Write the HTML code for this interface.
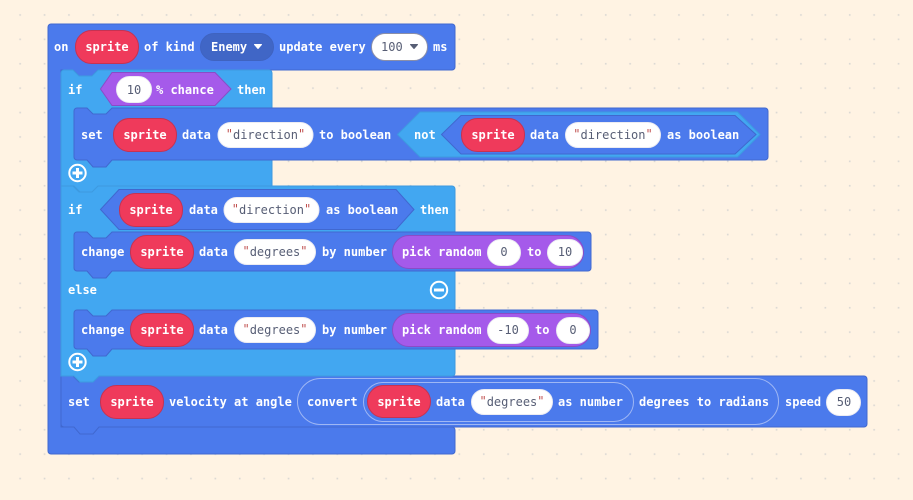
<!DOCTYPE html>
<html><head><meta charset="utf-8"><style>
html,body{margin:0;padding:0;background:#fff3e3;width:913px;height:500px;overflow:hidden}
svg{display:block}
text{font-family:"DejaVu Sans Mono","Liberation Mono",monospace;font-size:12px;font-weight:bold;fill:#fff;dominant-baseline:central}
.m{text-anchor:middle}
.d{fill:#575e75;font-weight:normal}
.q{fill:#c0504f}
.ev{fill:#4b7aec;stroke:#4068cf}
.lb{fill:#42a7f1;stroke:#3d9ae0}
.sp{fill:#ef3a5b;stroke:#c63252}
.w{fill:#fff;stroke:#ececf2}
.pu{fill:#a55aea;stroke:#8a4cc6}
.ol{fill:none;stroke:#9fb7f4}
</style></head><body>
<svg width="913" height="500" viewBox="0 0 913 500" xmlns="http://www.w3.org/2000/svg">
<defs><pattern id="g" x="7.9" y="2.7" width="24.4" height="24.4" patternUnits="userSpaceOnUse"><rect x="11.4" y="11.4" width="1.7" height="1.7" fill="#dcd9d4"/></pattern></defs>
<rect width="913" height="500" fill="#fff3e3"/>
<rect width="913" height="500" fill="url(#g)"/>

<path class="ev" d="M48,27a3,3 0 0 1 3-3H452a3,3 0 0 1 3,3V67a3,3 0 0 1-3,3H98l-6,6H79l-6-6H61V427H452a3,3 0 0 1 3,3V451a3,3 0 0 1-3,3H51a3,3 0 0 1-3-3z"/>
<rect class="sp" x="75.500" y="30.500" width="63" height="33" rx="16"/>
<text class="m" x="107" y="47">sprite</text>
<text x="54" y="47">on</text>
<text x="144" y="47">of kind</text>
<rect x="200.500" y="33.500" width="73" height="27" rx="13.500" fill="#4066c6" stroke="#3f63c0"/>
<text x="211" y="47">Enemy</text>
<path d="M254.500,44.500h7l-3.500,4z" fill="#fff" stroke="#fff" stroke-linejoin="round"/>
<text x="279" y="47">update every</text>
<rect class="w" style="stroke:#8b8fa8" x="371.500" y="33.500" width="56" height="27" rx="13.500"/>
<text class="d" x="381" y="47">100</text>
<path d="M410.500,44.500h7l-3.500,4z" fill="#575e75" stroke="#575e75" stroke-linejoin="round"/>
<text x="433" y="47">ms</text>

<!-- if 1 -->
<path class="lb" d="M61,73a3,3 0 0 1 3-3h9l6,6h13l6-6H269a3,3 0 0 1 3,3V186H99l-6,6H80l-6-6H61z"/>
<path class="pu" d="M100.500,89L112,72.500H215L231,89L215,105.500H112z"/>
<rect class="w" x="116.500" y="76.500" width="35" height="26" rx="13"/>
<text class="m d" x="134" y="90">10</text>
<text x="156" y="90">% chance</text>
<text x="68" y="90">if</text>
<text x="237" y="90">then</text>

<!-- set direction -->
<path class="ev" d="M74,111a3,3 0 0 1 3-3h10l6,6h13l6-6H765a3,3 0 0 1 3,3V157a3,3 0 0 1-3,3H112l-6,7H93l-6-7H77a3,3 0 0 1-3-3z"/>
<text x="81" y="135">set</text>
<rect class="sp" x="113.500" y="118.500" width="63" height="33" rx="16"/>
<text class="m" x="145" y="135">sprite</text>
<text x="182" y="135">data</text>
<rect class="w" x="218" y="122.500" width="95" height="25" rx="12.500"/>
<text class="m d" x="265.500" y="135"><tspan class="q" dy="-1">"</tspan><tspan dy="1">direction</tspan><tspan class="q" dy="-1">"</tspan></text>
<text x="319" y="135">to boolean</text>
<path class="lb" d="M397.500,134.500L420,112H737.500L760,134.500L737.500,157H420z"/>
<text x="414" y="135">not</text>
<path class="ev" d="M441.500,134.500L461,115.500H735L756,134.500L735,154H461z"/>
<rect class="sp" x="461.500" y="118.500" width="63" height="33" rx="16"/>
<text class="m" x="493" y="135">sprite</text>
<text x="530" y="135">data</text>
<rect class="w" x="565.500" y="122.500" width="95" height="25" rx="12.500"/>
<text class="m d" x="613" y="135"><tspan class="q" dy="-1">"</tspan><tspan dy="1">direction</tspan><tspan class="q" dy="-1">"</tspan></text>
<text x="667" y="135">as boolean</text>

<g fill="none" stroke="#fff" stroke-width="2"><circle cx="77.500" cy="173" r="8.200"/></g>
<path d="M77.500,168v10M72.500,173h10" stroke="#fff" stroke-width="3"/>

<!-- set velocity -->
<path class="ev" d="M61,376h12l6,6h13l6-6H864a3,3 0 0 1 3,3V424a3,3 0 0 1-3,3H99l-6,7H80l-6-7H64a3,3 0 0 1-3-3z"/>

<!-- if 2 -->
<path class="lb" d="M61,186h12l6,6h13l6-6H452a3,3 0 0 1 3,3V373a3,3 0 0 1-3,3H99l-6,6H80l-6-6H61z"/>
<text x="68" y="210">if</text>
<path class="ev" d="M100.500,209.500L119,189.500H396L414,209.500L396,229.500H119z"/>
<rect class="sp" x="119.500" y="193.500" width="63" height="33" rx="16"/>
<text class="m" x="151" y="210">sprite</text>
<text x="189" y="210">data</text>
<rect class="w" x="224" y="197.500" width="95" height="25" rx="12.500"/>
<text class="m d" x="271.500" y="210"><tspan class="q" dy="-1">"</tspan><tspan dy="1">direction</tspan><tspan class="q" dy="-1">"</tspan></text>
<text x="326" y="210">as boolean</text>
<text x="420" y="210">then</text>

<!-- change 1 -->
<path class="ev" d="M74,235a3,3 0 0 1 3-3h10l6,6h13l6-6H588a3,3 0 0 1 3,3V268a3,3 0 0 1-3,3H112l-6,7H93l-6-7H77a3,3 0 0 1-3-3z"/>
<text x="81" y="252">change</text>
<rect class="sp" x="130.500" y="235.500" width="63" height="33" rx="16"/>
<text class="m" x="162" y="252">sprite</text>
<text x="199" y="252">data</text>
<rect class="w" x="234.500" y="239.500" width="81" height="25" rx="12.500"/>
<text class="m d" x="275" y="252"><tspan class="q" dy="-1">"</tspan><tspan dy="1">degrees</tspan><tspan class="q" dy="-1">"</tspan></text>
<text x="322" y="252">by number</text>
<rect class="pu" x="392.500" y="235.500" width="191" height="33" rx="16.500"/>
<text x="402" y="252">pick random</text>
<rect class="w" x="487.500" y="239.500" width="33" height="26" rx="13"/>
<text class="m d" x="504" y="252">0</text>
<text x="527" y="252">to</text>
<rect class="w" x="547.500" y="239.500" width="35" height="26" rx="13"/>
<text class="m d" x="565" y="252">10</text>

<text x="68" y="290">else</text>
<circle cx="439" cy="290" r="8.200" fill="none" stroke="#fff" stroke-width="2"/>
<path d="M434,290h10" stroke="#fff" stroke-width="3"/>

<!-- change 2 -->
<path class="ev" d="M74,313a3,3 0 0 1 3-3h10l6,6h13l6-6H595a3,3 0 0 1 3,3V346a3,3 0 0 1-3,3H112l-6,7H93l-6-7H77a3,3 0 0 1-3-3z"/>
<text x="81" y="330">change</text>
<rect class="sp" x="130.500" y="313.500" width="63" height="33" rx="16"/>
<text class="m" x="162" y="330">sprite</text>
<text x="199" y="330">data</text>
<rect class="w" x="234.500" y="317.500" width="81" height="25" rx="12.500"/>
<text class="m d" x="275" y="330"><tspan class="q" dy="-1">"</tspan><tspan dy="1">degrees</tspan><tspan class="q" dy="-1">"</tspan></text>
<text x="322" y="330">by number</text>
<rect class="pu" x="392.500" y="313.500" width="198" height="33" rx="16.500"/>
<text x="402" y="330">pick random</text>
<rect class="w" x="487.500" y="317.500" width="41" height="26" rx="13"/>
<text class="m d" x="508" y="330">-10</text>
<text x="535" y="330">to</text>
<rect class="w" x="556.500" y="317.500" width="33" height="26" rx="13"/>
<text class="m d" x="573" y="330">0</text>

<circle cx="77.500" cy="362" r="8.200" fill="none" stroke="#fff" stroke-width="2"/>
<path d="M77.500,357v10M72.500,362h10" stroke="#fff" stroke-width="3"/>

<!-- set velocity content -->
<text x="68" y="402">set</text>
<rect class="sp" x="100.500" y="385.500" width="63" height="33" rx="16"/>
<text class="m" x="132" y="402">sprite</text>
<text x="169" y="402">velocity at angle</text>
<rect class="ol" x="297.500" y="378.500" width="481" height="46" rx="23"/>
<text x="307" y="402">convert</text>
<rect class="ol" x="363.500" y="382.500" width="270" height="39" rx="19.500"/>
<rect class="sp" x="367.500" y="385.500" width="63" height="32" rx="16"/>
<text class="m" x="399" y="402">sprite</text>
<text x="436" y="402">data</text>
<rect class="w" x="471.500" y="389.500" width="81" height="25" rx="12.500"/>
<text class="m d" x="512" y="402"><tspan class="q" dy="-1">"</tspan><tspan dy="1">degrees</tspan><tspan class="q" dy="-1">"</tspan></text>
<text x="558" y="402">as number</text>
<text x="639" y="402">degrees to radians</text>
<text x="785" y="402">speed</text>
<rect class="w" x="826.500" y="389.500" width="34" height="26" rx="13"/>
<text class="m d" x="844" y="402">50</text>
</svg>
</body></html>
